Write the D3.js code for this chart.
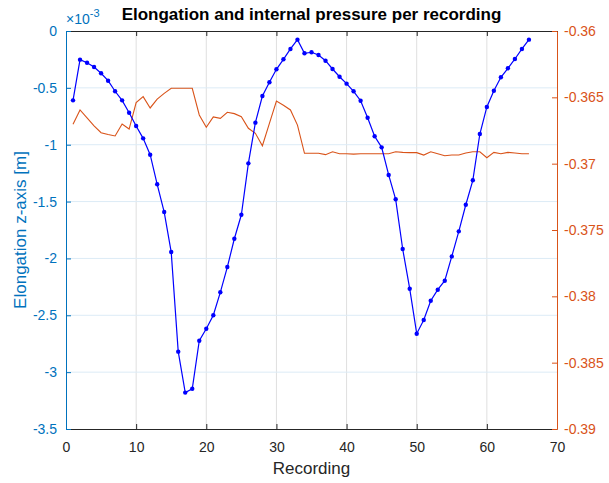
<!DOCTYPE html>
<html>
<head>
<meta charset="utf-8">
<script src="https://cdn.jsdelivr.net/npm/d3@7"></script>
<style>
  body { margin: 0; background: #fff; }
  text { font-family: "Liberation Sans", Arial, Helvetica, sans-serif; }
</style>
</head>
<body>
<svg id="chart" width="609" height="483"></svg>
<script>
// recording index (x axis)
const recording = [1, 2, 3, 4, 5, 6, 7, 8, 9, 10, 11, 12, 13, 14, 15, 16, 17, 18, 19, 20,
  21, 22, 23, 24, 25, 26, 27, 28, 29, 30, 31, 32, 33, 34, 35, 36, 37, 38, 39, 40,
  41, 42, 43, 44, 45, 46, 47, 48, 49, 50, 51, 52, 53, 54, 55, 56, 57, 58, 59, 60,
  61, 62, 63, 64, 65, 66];

// elongation along z, in metres (left axis)
const elongation = [-0.61e-3, -0.252e-3, -0.279e-3, -0.317e-3, -0.372e-3, -0.437e-3, -0.53e-3, -0.61e-3, -0.719e-3, -0.836e-3,
  -0.944e-3, -1.088e-3, -1.348e-3, -1.592e-3, -1.944e-3, -2.82e-3, -3.18e-3, -3.146e-3, -2.724e-3, -2.618e-3,
  -2.5e-3, -2.298e-3, -2.076e-3, -1.827e-3, -1.616e-3, -1.164e-3, -0.806e-3, -0.572e-3, -0.451e-3, -0.337e-3,
  -0.249e-3, -0.158e-3, -0.076e-3, -0.196e-3, -0.187e-3, -0.211e-3, -0.261e-3, -0.334e-3, -0.402e-3, -0.463e-3,
  -0.53e-3, -0.613e-3, -0.763e-3, -0.926e-3, -1.023e-3, -1.266e-3, -1.48e-3, -1.917e-3, -2.266e-3, -2.662e-3,
  -2.542e-3, -2.372e-3, -2.275e-3, -2.196e-3, -1.982e-3, -1.762e-3, -1.528e-3, -1.313e-3, -0.906e-3, -0.668e-3,
  -0.525e-3, -0.407e-3, -0.328e-3, -0.246e-3, -0.158e-3, -0.076e-3];

// internal pressure (right axis)
const pressure = [-0.36703, -0.36595, -0.36655, -0.36715, -0.36767, -0.3678, -0.36791, -0.36701, -0.36739, -0.3654,
  -0.36495, -0.3658, -0.36513, -0.3647, -0.36432, -0.36432, -0.36432, -0.36432, -0.36633, -0.36726,
  -0.36648, -0.36658, -0.36613, -0.36623, -0.36646, -0.36733, -0.36771, -0.36865, -0.36696, -0.36528,
  -0.3656, -0.36595, -0.36709, -0.36922, -0.36922, -0.36922, -0.36932, -0.3691, -0.36925, -0.36925,
  -0.36928, -0.36925, -0.36925, -0.36925, -0.36925, -0.36925, -0.3691, -0.36915, -0.36917, -0.36917,
  -0.36935, -0.3691, -0.36925, -0.3694, -0.36935, -0.36935, -0.3692, -0.3691, -0.3691, -0.36955,
  -0.36915, -0.36925, -0.36915, -0.3692, -0.36925, -0.36925];

const xTicks = [0, 10, 20, 30, 40, 50, 60, 70];
const leftTicks = [-3.5e-3, -3e-3, -2.5e-3, -2e-3, -1.5e-3, -1e-3, -0.5e-3, 0];
const rightTicks = [-0.39, -0.385, -0.38, -0.375, -0.37, -0.365, -0.36];

const blue = "#0072BD", orange = "#D95319", dark = "#262626";

const margin = {left: 66, right: 52, top: 31, bottom: 54};
const width = 609 - margin.left - margin.right;
const height = 483 - margin.top - margin.bottom;

const svg = d3.select("#chart");
const g = svg.append("g").attr("transform", `translate(${margin.left},${margin.top})`);

const x = d3.scaleLinear([0, 70], [0, width]);
const yL = d3.scaleLinear([-3.5e-3, 0], [height, 0]);
const yR = d3.scaleLinear([-0.39, -0.36], [height, 0]);

const fmt = d3.formatLocale({decimal: ".", thousands: ",", grouping: [3], currency: ["", ""], minus: "-"});
const leftFmt = d => fmt.format("~g")(+(d / 1e-3).toFixed(2));
const rightFmt = fmt.format(".3~f");

// grid
g.append("g").selectAll("line").data(xTicks.slice(1, -1)).join("line")
  .attr("x1", d => x(d)).attr("x2", d => x(d)).attr("y1", 0).attr("y2", height)
  .attr("stroke", "#dfdfdf").attr("stroke-width", 1);
g.append("g").selectAll("line").data(leftTicks.slice(1, -1)).join("line")
  .attr("x1", 0).attr("x2", width).attr("y1", d => yL(d)).attr("y2", d => yL(d))
  .attr("stroke", "#dcebf6").attr("stroke-width", 1);

// axes
const styleAxis = (sel, color) => {
  sel.selectAll("path.domain").attr("stroke", color);
  sel.selectAll(".tick line").attr("stroke", color);
  sel.selectAll(".tick text").attr("fill", color).style("font-size", "14px");
  sel.attr("font-family", null);
};

g.append("g")
  .call(d3.axisTop(x).tickValues(xTicks).tickSizeInner(-5).tickSizeOuter(0).tickFormat(""))
  .call(s => styleAxis(s, dark));

g.append("g").attr("transform", `translate(0,${height})`)
  .call(d3.axisBottom(x).tickValues(xTicks).tickSizeInner(-5).tickSizeOuter(0).tickPadding(13))
  .call(s => styleAxis(s, dark));

g.append("g")
  .call(d3.axisLeft(yL).tickValues(leftTicks).tickSizeInner(-5).tickSizeOuter(0).tickPadding(9).tickFormat(leftFmt))
  .call(s => styleAxis(s, blue));

g.append("g").attr("transform", `translate(${width},0)`)
  .call(d3.axisRight(yR).tickValues(rightTicks).tickSizeInner(-5).tickSizeOuter(0).tickPadding(7).tickFormat(rightFmt))
  .call(s => styleAxis(s, orange));

// lines
const pts = recording.map((r, i) => ({r, e: elongation[i], p: pressure[i]}));

g.append("path").datum(pts)
  .attr("fill", "none").attr("stroke", orange).attr("stroke-width", 1.1)
  .attr("d", d3.line().x(d => x(d.r)).y(d => yR(d.p)));

g.append("path").datum(pts)
  .attr("fill", "none").attr("stroke", "#0000ff").attr("stroke-width", 1.2)
  .attr("d", d3.line().x(d => x(d.r)).y(d => yL(d.e)));

g.append("g").selectAll("circle").data(pts).join("circle")
  .attr("cx", d => x(d.r)).attr("cy", d => yL(d.e)).attr("r", 2.2)
  .attr("fill", "#0000ff");

// texts
svg.append("text")
  .attr("x", margin.left + width / 2).attr("y", 20)
  .attr("text-anchor", "middle").style("font-size", "17px").style("font-weight", "bold")
  .attr("fill", "#000")
  .text("Elongation and internal pressure per recording");

const exp = svg.append("text").attr("x", margin.left).attr("y", 24)
  .attr("fill", blue).style("font-size", "14px");
exp.append("tspan").text("×10");
exp.append("tspan").attr("dy", -7).style("font-size", "11px").text("-3");

svg.append("text")
  .attr("x", margin.left + width / 2).attr("y", 474)
  .attr("text-anchor", "middle").style("font-size", "17px").attr("fill", dark)
  .text("Recording");

svg.append("text")
  .attr("transform", `translate(26,${margin.top + height / 2}) rotate(-90)`)
  .attr("text-anchor", "middle").style("font-size", "17px").attr("fill", blue)
  .text("Elongation z-axis [m]");
</script>
</body>
</html>
